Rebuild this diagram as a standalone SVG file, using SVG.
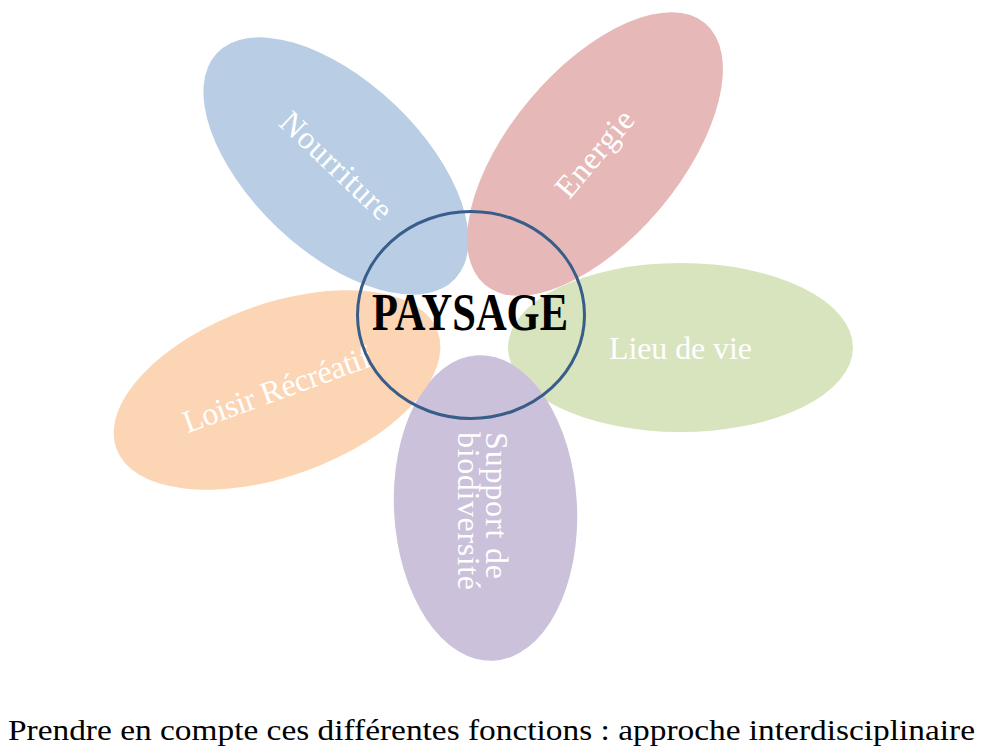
<svg xmlns="http://www.w3.org/2000/svg" width="984" height="753" viewBox="0 0 984 753">
<style>
.petal-label{font-family:"Liberation Serif","Times New Roman",serif;font-size:32px;fill:#ffffff;}
.center-label{font-family:"Liberation Serif","Times New Roman",serif;font-size:52px;font-weight:bold;fill:#000000;}
.caption{font-family:"Liberation Serif","Times New Roman",serif;font-size:30px;fill:#000000;}
.hub{fill:none;stroke:#385d8a;stroke-width:3;}
</style>
<rect x="0" y="0" width="984" height="753" fill="#ffffff"/>
<g id="nourriture" transform="translate(336,166) rotate(43.5)">
  <ellipse cx="0" cy="0" rx="164" ry="85" fill="#b9cde5"/>
  <text class="petal-label" x="0" y="10" text-anchor="middle" textLength="142">Nourriture</text>
</g>
<g id="energie" transform="translate(595,154) rotate(-49.9)">
  <ellipse cx="0" cy="0" rx="171" ry="85" fill="#e6b9b8"/>
  <text class="petal-label" x="0" y="10" text-anchor="middle" textLength="104">Energie</text>
</g>
<g id="lieu-de-vie">
  <ellipse cx="680.5" cy="347.5" rx="172.5" ry="84.5" fill="#d7e4bd"/>
  <text class="petal-label" x="680.5" y="359" text-anchor="middle" textLength="143">Lieu de vie</text>
</g>
<g id="support-biodiversite">
  <ellipse cx="485.5" cy="508" rx="91.5" ry="153" fill="#ccc1da" transform="rotate(-3 485.5 508)"/>
  <g transform="translate(485,432) rotate(90)">
    <text class="petal-label" x="0" y="-1" textLength="147">Support de</text>
    <text class="petal-label" x="0" y="27" textLength="158">biodiversité</text>
  </g>
</g>
<g id="loisir-recreatif" transform="translate(277,390) rotate(-20)">
  <ellipse cx="0" cy="0" rx="171" ry="86" fill="#fcd5b5"/>
  <text class="petal-label" x="0" y="10" text-anchor="middle" textLength="198">Loisir Récréatif</text>
</g>
<g id="paysage">
  <ellipse class="hub" cx="471" cy="315" rx="113.5" ry="103.5"/>
  <text class="center-label" x="470" y="330" text-anchor="middle" textLength="196" lengthAdjust="spacingAndGlyphs">PAYSAGE</text>
</g>
<g id="connectors"></g>
<g id="caption-text">
  <text class="caption" x="8" y="740" textLength="967" lengthAdjust="spacingAndGlyphs">Prendre en compte ces différentes fonctions : approche interdisciplinaire</text>
</g>
</svg>
